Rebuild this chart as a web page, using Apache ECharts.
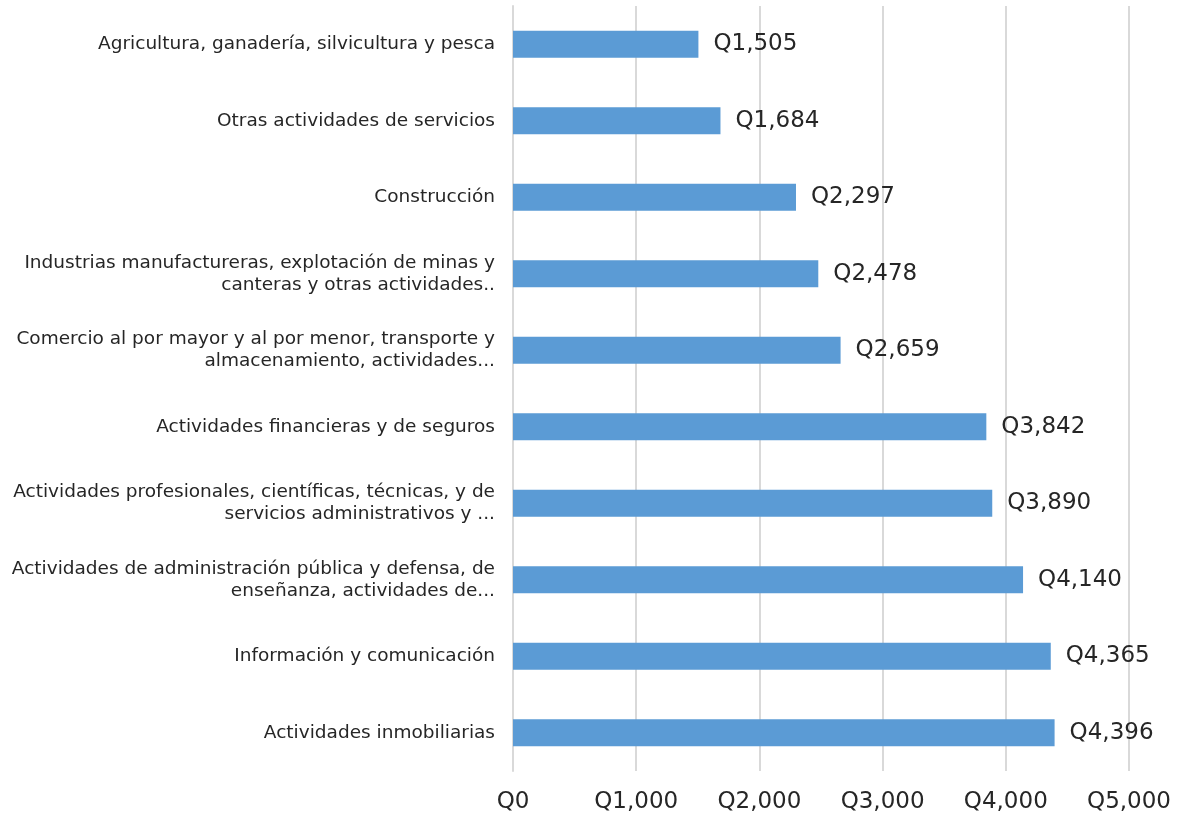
<!DOCTYPE html>
<html>
<head>
<meta charset="utf-8">
<script src="https://cdn.jsdelivr.net/npm/echarts@6/dist/echarts.min.js"></script>
<style>
  html, body { margin: 0; padding: 0; background: #fff; }
  #chart { width: 1182px; height: 817px; }
</style>
</head>
<body>
<div id="chart"></div>
<script>
// Sector names, top to bottom
const categories = [
  'Agricultura, ganadería, silvicultura y pesca',
  'Otras actividades de servicios',
  'Construcción',
  'Industrias manufactureras, explotación de minas y\ncanteras y otras actividades..',
  'Comercio al por mayor y al por menor, transporte y\nalmacenamiento, actividades...',
  'Actividades financieras y de seguros',
  'Actividades profesionales, científicas, técnicas, y de\nservicios administrativos y ...',
  'Actividades de administración pública y defensa, de\nenseñanza, actividades de...',
  'Información y comunicación',
  'Actividades inmobiliarias'
];
// Average income in quetzales
const values = [1505, 1684, 2297, 2478, 2659, 3842, 3890, 4140, 4365, 4396];
const axisMin = 0;
const axisMax = 5000;
const axisStep = 1000;

const fmtQ = v => 'Q' + Number(v).toLocaleString('en-US');
const FONT = '"DejaVu Sans", sans-serif';

const chart = echarts.init(document.getElementById('chart'));
chart.setOption({
  animation: false,
  grid: { left: 513, right: 53, top: 6, bottom: 46, containLabel: false },
  xAxis: {
    type: 'value',
    min: axisMin,
    max: axisMax,
    interval: axisStep,
    axisLine: { show: false },
    axisTick: { show: false },
    splitLine: { show: true, lineStyle: { color: '#d9d9d9', width: 2 } },
    axisLabel: {
      formatter: fmtQ,
      color: '#262626',
      fontFamily: FONT,
      fontSize: 23,
      margin: 20
    }
  },
  yAxis: {
    type: 'category',
    data: categories,
    inverse: true,
    axisLine: { show: true, lineStyle: { color: '#d9d9d9', width: 2 } },
    axisTick: { show: false },
    axisLabel: {
      color: '#262626',
      fontFamily: FONT,
      fontSize: 18.5,
      lineHeight: 22,
      align: 'right',
      margin: 18
    }
  },
  series: [{
    type: 'bar',
    data: values,
    barWidth: 27,
    itemStyle: { color: '#5B9BD5' },
    label: {
      show: true,
      position: 'right',
      distance: 15,
      formatter: p => fmtQ(p.value),
      color: '#262626',
      fontFamily: FONT,
      fontSize: 23
    }
  }]
});
</script>
</body>
</html>
